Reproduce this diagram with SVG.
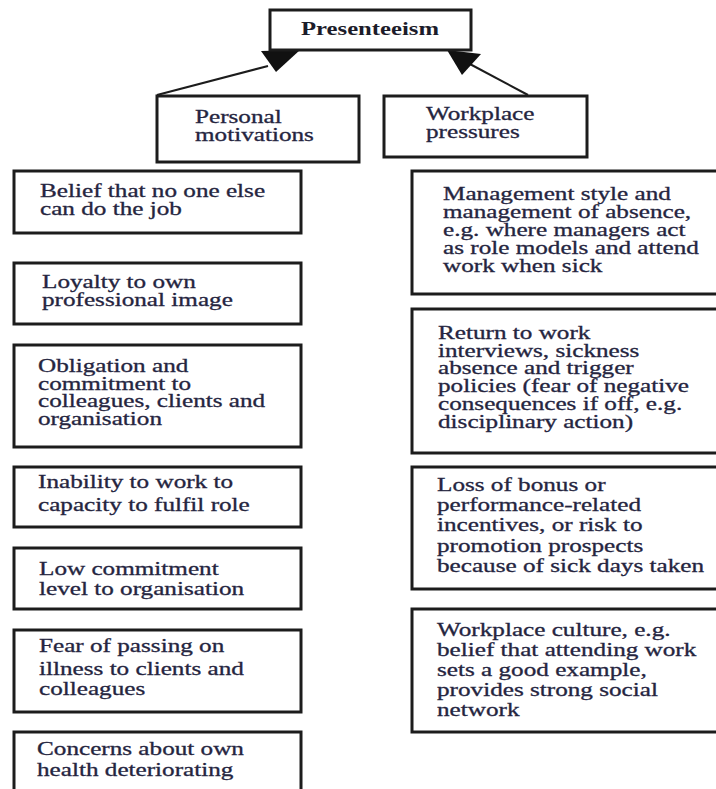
<svg xmlns="http://www.w3.org/2000/svg" width="716" height="789" viewBox="0 0 716 789">
<style>
.box{fill:#fff;stroke:#1c1c1c;stroke-width:3}
.t{font-family:"Liberation Serif","Times New Roman",serif;font-size:18px;fill:#25253f;stroke:#25253f;stroke-width:0.3}
.h{font-family:"Liberation Serif","Times New Roman",serif;font-size:19px;font-weight:bold;fill:#1c1c2a}
.ln{stroke:#1c1c1c;stroke-width:2;fill:none}
.ah{fill:#111}
</style>
<rect width="716" height="789" fill="#fff"/>

<g id="connectors">
<line class="ln" x1="157" y1="95" x2="268" y2="66"/>
<polygon class="ah" points="261,51 300,50 276,72"/>
<line class="ln" x1="528" y1="95" x2="468" y2="63"/>
<polygon class="ah" points="447,50 481,54 462,75"/>
</g>

<g id="presenteeism">
<rect class="box" x="270" y="10" width="201" height="40"/>
<text class="h" transform="translate(370,0) scale(1.3,1)" text-anchor="middle"><tspan x="0" y="35">Presenteeism</tspan></text>
</g>

<g id="personal">
<rect class="box" x="157" y="96" width="202" height="66"/>
<text class="t" transform="translate(195,0) scale(1.4,1)"><tspan x="0" y="123">Personal</tspan><tspan x="0" y="141.5">motivations</tspan></text>
</g>

<g id="workplace">
<rect class="box" x="384" y="96" width="203" height="61"/>
<text class="t" transform="translate(426,0) scale(1.4,1)"><tspan x="0" y="120.5">Workplace</tspan><tspan x="0" y="138">pressures</tspan></text>
</g>

<g id="p1">
<rect class="box" x="14" y="171" width="287" height="62"/>
<text class="t" transform="translate(40,0) scale(1.4,1)"><tspan x="0" y="197">Belief that no one else</tspan><tspan x="0" y="215">can do the job</tspan></text>
</g>

<g id="p2">
<rect class="box" x="14" y="263" width="287" height="61"/>
<text class="t" transform="translate(42,0) scale(1.4,1)"><tspan x="0" y="288">Loyalty to own</tspan><tspan x="0" y="306">professional image</tspan></text>
</g>

<g id="p3">
<rect class="box" x="14" y="345" width="287" height="102"/>
<text class="t" transform="translate(38,0) scale(1.4,1)"><tspan x="0" y="372.5">Obligation and</tspan><tspan x="0" y="390">commitment to</tspan><tspan x="0" y="407.5">colleagues, clients and</tspan><tspan x="0" y="425">organisation</tspan></text>
</g>

<g id="p4">
<rect class="box" x="14" y="467" width="287" height="60"/>
<text class="t" transform="translate(38,0) scale(1.4,1)"><tspan x="0" y="488">Inability to work to</tspan><tspan x="0" y="511">capacity to fulfil role</tspan></text>
</g>

<g id="p5">
<rect class="box" x="14" y="548" width="287" height="61"/>
<text class="t" transform="translate(39,0) scale(1.4,1)"><tspan x="0" y="575">Low commitment</tspan><tspan x="0" y="595">level to organisation</tspan></text>
</g>

<g id="p6">
<rect class="box" x="14" y="630" width="287" height="82"/>
<text class="t" transform="translate(39,0) scale(1.4,1)"><tspan x="0" y="652">Fear of passing on</tspan><tspan x="0" y="675">illness to clients and</tspan><tspan x="0" y="695.5">colleagues</tspan></text>
</g>

<g id="p7">
<rect class="box" x="14" y="732" width="287" height="70"/>
<text class="t" transform="translate(37,0) scale(1.4,1)"><tspan x="0" y="755">Concerns about own</tspan><tspan x="0" y="776.5">health deteriorating</tspan></text>
</g>

<g id="w1">
<rect class="box" x="412" y="171" width="310" height="123"/>
<text class="t" transform="translate(443,0) scale(1.4,1)"><tspan x="0" y="200.5">Management style and</tspan><tspan x="0" y="218.5">management of absence,</tspan><tspan x="0" y="236.5">e.g. where managers act</tspan><tspan x="0" y="254.5">as role models and attend</tspan><tspan x="0" y="272.5">work when sick</tspan></text>
</g>

<g id="w2">
<rect class="box" x="412" y="309" width="310" height="144"/>
<text class="t" transform="translate(438,0) scale(1.4,1)"><tspan x="0" y="339.5">Return to work</tspan><tspan x="0" y="357">interviews, sickness</tspan><tspan x="0" y="374.5">absence and trigger</tspan><tspan x="0" y="392.5">policies (fear of negative</tspan><tspan x="0" y="410">consequences if off, e.g.</tspan><tspan x="0" y="428">disciplinary action)</tspan></text>
</g>

<g id="w3">
<rect class="box" x="412" y="467" width="310" height="122"/>
<text class="t" transform="translate(437,0) scale(1.4,1)"><tspan x="0" y="491.5">Loss of bonus or</tspan><tspan x="0" y="511.5">performance-related</tspan><tspan x="0" y="531.5">incentives, or risk to</tspan><tspan x="0" y="552">promotion prospects</tspan><tspan x="0" y="572.5">because of sick days taken</tspan></text>
</g>

<g id="w4">
<rect class="box" x="412" y="609" width="310" height="123"/>
<text class="t" transform="translate(437,0) scale(1.4,1)"><tspan x="0" y="636">Workplace culture, e.g.</tspan><tspan x="0" y="656">belief that attending work</tspan><tspan x="0" y="676">sets a good example,</tspan><tspan x="0" y="696">provides strong social</tspan><tspan x="0" y="716.5">network</tspan></text>
</g>
</svg>
